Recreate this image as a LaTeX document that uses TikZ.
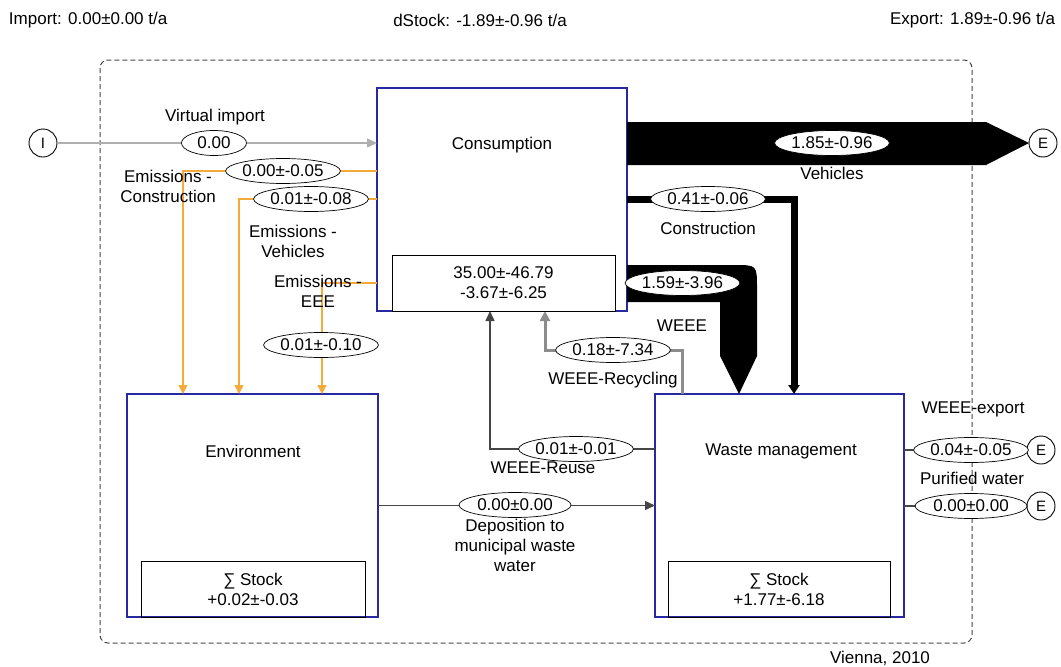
\documentclass[tikz,border=0pt]{standalone}
\usepackage{fontspec}
\setmainfont{Liberation Sans}
\usetikzlibrary{arrows.meta,shapes.geometric,calc}
\definecolor{boxblue}{RGB}{40,40,160}
\definecolor{emiorange}{RGB}{245,170,60}
\definecolor{vgray}{RGB}{175,175,175}
\definecolor{rgray}{RGB}{140,140,140}
\definecolor{dgray}{RGB}{70,70,70}
\begin{document}
\begin{tikzpicture}[x=1pt,y=-1pt,
  every node/.style={font=\fontsize{17}{20}\selectfont, inner sep=0pt, outer sep=0pt},
  proc/.style={draw=boxblue, line width=1.2pt, rectangle},
  stockbox/.style={draw=black, line width=1pt, rectangle, align=center},
  val/.style={ellipse, draw=black, line width=0.7pt, fill=white, minimum width=112, minimum height=25},
  lbl/.style={align=center},
  term/.style={circle, draw=black, line width=0.9pt, minimum size=28, font=\fontsize{15}{17}\selectfont},
  emi/.style={draw=emiorange, line width=1.5pt, -{Triangle[width=9pt,length=9pt]}},
  flowline/.style={draw=dgray, line width=1.5pt},
  flowarrow/.style={flowline, -{Triangle[width=9pt,length=10pt]}}
]
\path[use as bounding box] (0,0) rectangle (1061,667);

% system boundary
\draw[dgray, line width=1pt, dash pattern=on 5pt off 3pt, rounded corners=8pt] (100,60) rectangle (972,643);

% top texts
\node[anchor=west] (imp) at (9,20) {Import: 0.00±0.00 t/a};
\node (dst) at (480,20) {dStock: -1.89±-0.96 t/a};
\node[anchor=east] (exp) at (1055,20) {Export: 1.89±-0.96 t/a};
\node (vie) at (880,658) {Vienna, 2010};

% processes
\node[proc, minimum width=250, minimum height=223] (cons) at (502,199.5) {};
\node[proc, minimum width=251, minimum height=223] (env) at (252.5,505.5) {};
\node[proc, minimum width=249, minimum height=223] (waste) at (779.5,505.5) {};

% terminals
\node[term] (I) at (43,143) {I};
\node[term] (E1) at (1043,143) {E};
\node[term] (E2) at (1041,450) {E};
\node[term] (E3) at (1041,506) {E};

% coordinates for bends
\coordinate (vA) at (986,122);
\coordinate (vB) at (986,165);
\coordinate (cA) at (794,199);
\coordinate (wA) at (734,265);
\coordinate (wB) at (757,265);
\coordinate (wC) at (757,288);
\coordinate (wD) at (757,356);
\coordinate (wE) at (739,394);
\coordinate (wF) at (720,356);
\coordinate (wG) at (720,302);
\coordinate (e1) at (183,171);
\coordinate (e2) at (239,199);
\coordinate (e3) at (322,283);
\coordinate (r1) at (682,350);
\coordinate (r2) at (545,350);
\coordinate (u1) at (490,449);

% flows
\draw[vgray, line width=1.5pt, -{Triangle[width=9pt,length=10pt]}] (I) -- (cons.west |- I);
\fill[black] (cons.east |- vA) -- (vA) -- (E1.west) -- (vB) -- (cons.east |- vB) -- cycle;
\draw[line width=7pt, -{Triangle[width=11pt,length=9pt]}] (cons.east |- cA) -- (cA) -- (cA |- waste.north);
\fill[black] (cons.east |- wA) -- (wA) .. controls (wB) .. (wC) -- (wD) -- (wE |- waste.north) -- (wF) -- (wG) -- (cons.east |- wG) -- cycle;
\draw[emi] (cons.west |- e1) -- (e1) -- (e1 |- env.north);
\draw[emi] (cons.west |- e2) -- (e2) -- (e2 |- env.north);
\draw[emi] (cons.west |- e3) -- (e3) -- (e3 |- env.north);
\draw[rgray, line width=3pt, -{Triangle[width=10pt,length=10pt]}] (r1 |- waste.north) -- (r1) -- (r2) -- (r2 |- cons.south);
\draw[flowarrow] (waste.west |- u1) -- (u1) -- (u1 |- cons.south);
\draw[flowarrow] (env.east) -- (waste.west);
\draw[flowline] (waste.east |- E2) -- (E2);
\draw[flowline] (waste.east |- E3) -- (E3);

% stock boxes
\node[stockbox, fill=white, minimum width=223, minimum height=56] (consst) at (503.5,283) {35.00±-46.79\\-3.67±-6.25};
\node[stockbox, minimum width=224, minimum height=56] (envst) at (253,589) {∑ Stock\\+0.02±-0.03};
\node[stockbox, minimum width=222, minimum height=56] (wastest) at (779,589) {∑ Stock\\+1.77±-6.18};

% process labels
\node (consl) at (502,145) {Consumption};
\node (envl) at (253,451) {Environment};
\node (wastel) at (781,451) {Waste management};

% values
\node[val, minimum width=65] (v0) at (214,143) {0.00};
\node[val] (vv) at (832,143) {1.85±-0.96};
\node[val] (cv) at (708,199) {0.41±-0.06};
\node[val, minimum width=109] (wv) at (682.5,283) {1.59±-3.96};
\node[val] (e1v) at (283,171) {0.00±-0.05};
\node[val] (e2v) at (311,199) {0.01±-0.08};
\node[val] (e3v) at (321,345) {0.01±-0.10};
\node[val] (rv) at (613,350) {0.18±-7.34};
\node[val] (uv) at (576,449) {0.01±-0.01};
\node[val] (dv) at (515,505) {0.00±0.00};
\node[val] (xv) at (971,450) {0.04±-0.05};
\node[val] (pv) at (971,506) {0.00±0.00};

% flow labels
\node (vil) at (215,117) {Virtual import};
\node (vl) at (832,173) {Vehicles};
\node (cl) at (708,228) {Construction};
\node (wl) at (682,326) {WEEE};
\node[lbl] (e1l) at (168,186.5) {Emissions -\\Construction};
\node[lbl] (e2l) at (293,241.5) {Emissions -\\Vehicles};
\node[lbl] (e3l) at (318,291) {Emissions -\\EEE};
\node (rl) at (613,380) {WEEE-Recycling};
\node (ul) at (543,468) {WEEE-Reuse};
\node[lbl] (dl) at (515,545) {Deposition to\\municipal waste\\water};
\node (xl) at (973,409) {WEEE-export};
\node (pl) at (972,478) {Purified water};
\end{tikzpicture}
\end{document}
